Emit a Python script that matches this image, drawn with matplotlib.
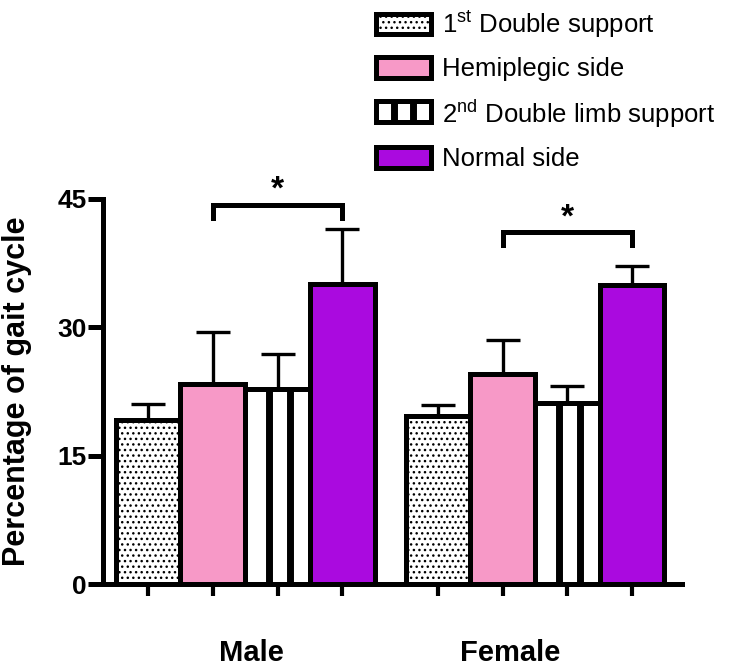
import numpy as np
import matplotlib
matplotlib.use("Agg")
import matplotlib.pyplot as plt
from matplotlib.patches import Patch, Rectangle
from matplotlib.lines import Line2D

plt.rcParams['font.family'] = ['Liberation Sans', 'DejaVu Sans']
plt.rcParams['mathtext.fontset'] = 'custom'
plt.rcParams['mathtext.rm'] = 'Liberation Sans'
plt.rcParams['mathtext.it'] = 'Liberation Sans:italic'
plt.rcParams['mathtext.bf'] = 'Liberation Sans:bold'
plt.rcParams['hatch.linewidth'] = 1.0

# data
groups = ['Male', 'Female']
series = [r'1$^{\mathrm{st}}$ Double support', 'Hemiplegic side',
          r'2$^{\mathrm{nd}}$ Double limb support', 'Normal side']
means = [[19.2, 23.4, 22.8, 35.1],
         [19.6, 24.6, 21.2, 35.0]]
errs = [[1.8, 6.1, 4.1, 6.4],
        [1.3, 3.9, 1.9, 2.2]]
sig_pairs = [(1, 3), (1, 3)]
sig_y = [44.3, 41.1]
yticks = [0, 15, 30, 45]

colors = ['white', '#F799C7', 'white', '#AA0ADF']
hatches = ['...', None, None, None]
striped = [False, False, True, False]

EDGE = 3.6
width = 1.0
group_gap = 4.48

fig = plt.figure(figsize=(7.42, 6.70), dpi=100)
ax = fig.add_axes([0.139, 0.128, 0.780, 0.575])

for g, gname in enumerate(groups):
    xs = g * group_gap + np.arange(len(series))
    for i in range(len(series)):
        x = xs[i]
        ax.errorbar(x, means[g][i], yerr=[[0], [errs[g][i]]], fmt='none',
                    ecolor='black', elinewidth=2.4, capsize=12, capthick=2.4,
                    zorder=2)
        ax.bar(x, means[g][i], width=width, color=colors[i], edgecolor='black',
               linewidth=EDGE, hatch=hatches[i], zorder=3)
        if striped[i]:
            for off in (-0.13, 0.19):
                ax.plot([x + off * width] * 2, [0, means[g][i]], color='black',
                        lw=5, solid_capstyle='butt', zorder=4)
            ax.bar(x, means[g][i], width=width, color='none', edgecolor='black',
                   linewidth=EDGE, zorder=5)
    # significance bracket
    a, b = sig_pairs[g]
    y = sig_y[g]
    ax.plot([xs[a], xs[a], xs[b], xs[b]], [y - 1.5, y, y, y - 1.5], color='black',
            lw=3.6, solid_joinstyle='miter', clip_on=False, zorder=6)
    ax.text((xs[a] + xs[b]) / 2, y - 0.1, '*', ha='center', va='bottom',
            fontsize=24, fontweight='bold', clip_on=False)

xticks = [g * group_gap + i for g in range(len(groups)) for i in range(len(series))]
ax.set_xticks(xticks)
ax.set_xticklabels([])
ax.set_xlim(-0.695, 8.25)
ax.set_ylim(0, 45)
ax.set_yticks(yticks)
ax.set_yticklabels([str(t) for t in yticks], fontsize=19, fontweight='bold')
ax.tick_params(axis='x', direction='out', length=8.5, width=3)
ax.tick_params(axis='y', direction='out', length=11, width=3.6, pad=1)

for s in ['top', 'right']:
    ax.spines[s].set_visible(False)
for s in ['left', 'bottom']:
    ax.spines[s].set_linewidth(EDGE)

ax.set_ylabel('Percentage of gait cycle', fontsize=22, fontweight='bold')
ax.yaxis.set_label_coords(-0.123, 0.5)

# group labels
label_x = [1.6, 5.6]
for gname, lx in zip(groups, label_x):
    ax.text(lx, -0.178, gname, transform=ax.get_xaxis_transform(), ha='center',
            va='center', fontsize=21, fontweight='bold')


class StripeHandler:
    def legend_artist(self, legend, orig_handle, fontsize, handlebox):
        x0, y0 = handlebox.xdescent, handlebox.ydescent
        w, h = handlebox.width, handlebox.height
        rect = Rectangle((x0, y0), w, h, facecolor='white', edgecolor='black',
                         lw=EDGE, transform=handlebox.get_transform())
        handlebox.add_artist(rect)
        for f in (1 / 3, 2 / 3):
            ln = Line2D([x0 + f * w] * 2, [y0, y0 + h], color='black', lw=5,
                        solid_capstyle='butt', transform=handlebox.get_transform())
            handlebox.add_artist(ln)
        return rect


handles = []
for i in range(len(series)):
    if striped[i]:
        handles.append(Patch(facecolor='white', edgecolor='black', label='stripe'))
    else:
        handles.append(Patch(facecolor=colors[i], edgecolor='black', lw=EDGE,
                             hatch=hatches[i]))
handler_map = {handles[2]: StripeHandler()}
fig.legend(handles, series, loc='upper left', bbox_to_anchor=(0.503, 0.99),
           frameon=False, fontsize=18.5, handlelength=2.15, handleheight=0.85,
           handletextpad=0.42, labelspacing=0.66, borderpad=0.1,
           borderaxespad=0, handler_map=handler_map)

fig.savefig('out.png', dpi=100)
